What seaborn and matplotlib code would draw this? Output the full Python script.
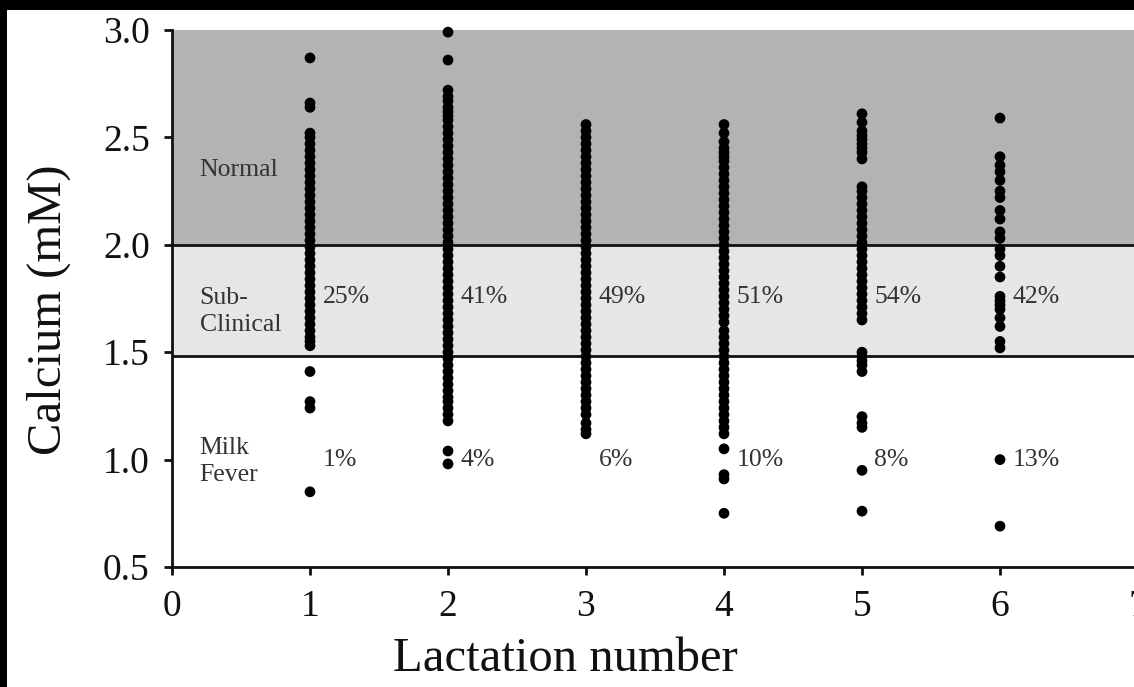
import seaborn as sns
import pandas as pd
import matplotlib.pyplot as plt
from matplotlib.patches import Rectangle

# calcium readings (mM) per lactation number
lactation = [1, 2, 3, 4, 5, 6]
calcium_1 = [2.87, 2.66, 2.64, 2.52, 2.50, 2.47, 2.44, 2.41, 2.38, 2.35, 2.32, 2.29,
             2.26, 2.23, 2.20, 2.17, 2.14, 2.11, 2.08, 2.05, 2.02, 1.99, 1.96, 1.93,
             1.90, 1.87, 1.84, 1.81, 1.78, 1.75, 1.72, 1.69, 1.66, 1.63, 1.60, 1.57,
             1.55, 1.53, 1.41, 1.27, 1.24, 0.85]
calcium_2 = [2.99, 2.86, 2.72, 2.69, 2.67, 2.64, 2.62, 2.60, 2.58, 2.55, 2.52, 2.49,
             2.46, 2.43, 2.40, 2.37, 2.34, 2.31, 2.28, 2.25, 2.22, 2.19, 2.16, 2.13,
             2.10, 2.07, 2.04, 2.01, 1.98, 1.95, 1.92, 1.89, 1.86, 1.83, 1.80, 1.77,
             1.74, 1.71, 1.68, 1.65, 1.62, 1.59, 1.56, 1.53, 1.50, 1.47, 1.44, 1.41,
             1.38, 1.35, 1.32, 1.29, 1.27, 1.24, 1.21, 1.18, 1.04, 0.98]
calcium_3 = [2.56, 2.53, 2.50, 2.47, 2.44, 2.41, 2.38, 2.35, 2.32, 2.29, 2.26, 2.23,
             2.20, 2.17, 2.14, 2.11, 2.08, 2.05, 2.02, 1.99, 1.96, 1.93, 1.90, 1.87,
             1.84, 1.81, 1.78, 1.75, 1.72, 1.69, 1.66, 1.63, 1.60, 1.57, 1.54, 1.51,
             1.48, 1.45, 1.42, 1.39, 1.36, 1.33, 1.30, 1.27, 1.24, 1.21, 1.17, 1.14,
             1.12]
calcium_4 = [2.56, 2.52, 2.48, 2.45, 2.43, 2.41, 2.39, 2.36, 2.33, 2.30, 2.27, 2.24,
             2.21, 2.18, 2.15, 2.12, 2.09, 2.06, 2.03, 2.00, 1.97, 1.94, 1.91, 1.88,
             1.85, 1.82, 1.79, 1.76, 1.73, 1.70, 1.67, 1.64, 1.60, 1.57, 1.54, 1.51,
             1.48, 1.45, 1.42, 1.39, 1.36, 1.33, 1.30, 1.27, 1.24, 1.21, 1.18, 1.15,
             1.12, 1.05, 0.93, 0.91, 0.75]
calcium_5 = [2.61, 2.57, 2.53, 2.51, 2.49, 2.47, 2.45, 2.43, 2.40, 2.27, 2.25, 2.22,
             2.19, 2.16, 2.13, 2.10, 2.07, 2.04, 2.01, 1.98, 1.95, 1.92, 1.89, 1.86,
             1.83, 1.80, 1.77, 1.74, 1.71, 1.68, 1.65, 1.50, 1.48, 1.46, 1.44, 1.41,
             1.20, 1.17, 1.15, 0.95, 0.76]
calcium_6 = [2.59, 2.41, 2.37, 2.34, 2.30, 2.25, 2.22, 2.16, 2.12, 2.06, 2.03, 1.98,
             1.95, 1.90, 1.85, 1.76, 1.74, 1.72, 1.70, 1.66, 1.62, 1.55, 1.52, 1.00,
             0.69]

pct_subclinical = ["25%", "41%", "49%", "51%", "54%", "42%"]
pct_milkfever = ["1%", "4%", "6%", "10%", "8%", "13%"]
zones = ["Normal", "Sub-\nClinical", "Milk\nFever"]
normal_cut = 2.0
milkfever_cut = 1.48

rows = []
for lac, vals in zip(lactation, [calcium_1, calcium_2, calcium_3,
                                 calcium_4, calcium_5, calcium_6]):
    rows += [(lac, v) for v in vals]
df = pd.DataFrame(rows, columns=["lactation", "calcium"])

sns.set_style("ticks")
plt.rcParams["font.family"] = ["Liberation Serif", "DejaVu Serif"]

W, H = 1134, 687
fig = plt.figure(figsize=(W / 100, H / 100), dpi=100)
fig.patch.set_facecolor("black")
fig.add_artist(Rectangle((7 / W, 0), 1, (H - 10) / H, transform=fig.transFigure,
                         facecolor="white", edgecolor="none", zorder=-5))

ax = fig.add_axes([172 / W, (H - 567) / H, 966 / W, 537 / H])
ax.set_facecolor("white")
ax.axhspan(normal_cut, 3.0, color="#b3b3b3", lw=0, zorder=0)
ax.axhspan(milkfever_cut, normal_cut, color="#e6e6e6", lw=0, zorder=0)
ax.axhline(normal_cut, color="#111111", lw=2, zorder=1)
ax.axhline(milkfever_cut, color="#111111", lw=2, zorder=1)

sns.scatterplot(data=df, x="lactation", y="calcium", color="black", s=60,
                edgecolor="none", legend=False, ax=ax, zorder=3)
ax.collections[-1].set_clip_on(False)  # top dot at 2.99 sits on the frame

ax.set_xlim(0, 7)
ax.set_ylim(0.5, 3.0)
ax.set_xticks(range(8))
ax.set_yticks([0.5, 1.0, 1.5, 2.0, 2.5, 3.0])
ax.set_yticklabels(["0.5", "1.0", "1.5", "2.0", "2.5", "3.0"])
ax.tick_params(direction="out", length=6, width=2, labelsize=27,
               colors="#111111")
ax.tick_params(axis="y", pad=10)
ax.tick_params(axis="x", pad=10)
sns.despine(ax=ax)
for s in ["left", "bottom"]:
    ax.spines[s].set_linewidth(2)
    ax.spines[s].set_color("#111111")

ax.set_xlabel("Lactation number", fontsize=35, color="#111111")
ax.xaxis.set_label_coords(0.407, -0.13)
ax.set_ylabel("Calcium (mM)", fontsize=35, color="#111111")
ax.yaxis.set_label_coords(-0.105, 0.479)

txt = dict(fontsize=18.5, color="#333333", va="center", ha="left", zorder=4)
ax.text(0.2, 2.35, zones[0], **txt)
ax.text(0.2, 1.69, zones[1], linespacing=1.3, **txt)
ax.text(0.2, 0.99, zones[2], linespacing=1.3, **txt)
for lac, p_sub, p_mf in zip(lactation, pct_subclinical, pct_milkfever):
    ax.text(lac + 0.09, 1.757, p_sub, **txt)
    ax.text(lac + 0.09, 1.0, p_mf, **txt)

fig.savefig("out.png", dpi=100, facecolor=fig.get_facecolor())
